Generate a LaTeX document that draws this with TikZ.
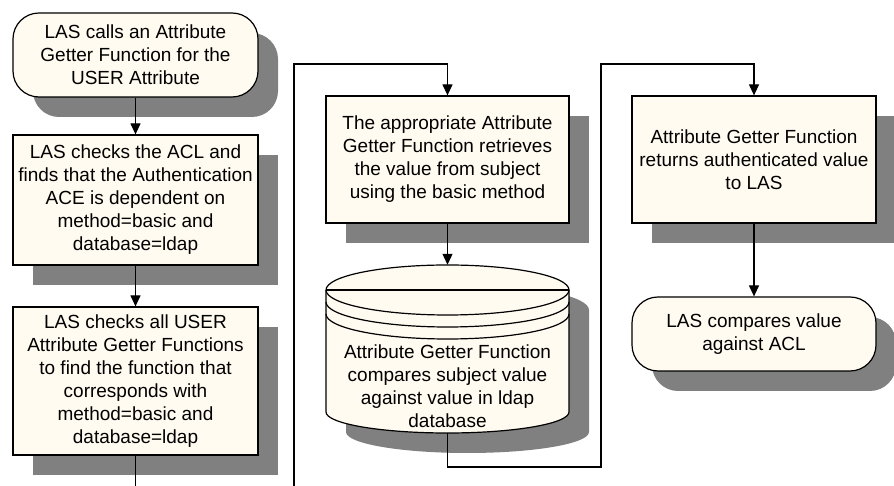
\documentclass[tikz,border=0pt]{standalone}
\usepackage{fontspec}
\setmainfont{Liberation Sans}
\usetikzlibrary{arrows.meta,shadows}
\definecolor{paper}{RGB}{255,251,240}
\definecolor{shadowgray}{RGB}{128,128,128}
\tikzset{
  box/.style={draw, line width=1.2pt, fill=paper, align=center, inner sep=0pt,
    font=\fontsize{19}{23}\selectfont,
    drop shadow={shadow xshift=20pt, shadow yshift=-20pt, fill=shadowgray, opacity=1}},
  term/.style={box, rounded corners=26pt},
  link/.style={line width=1.2pt},
  flow/.style={link, -{Triangle[length=11pt,width=10pt]}}
}
\begin{document}
\begin{tikzpicture}[x=1pt,y=1pt]
	\useasboundingbox (0,0) rectangle (894,486);
	% first column
	\node[term, minimum width=245pt, minimum height=84pt] (start) at (135.5,431)
		{LAS calls an Attribute\\Getter Function for the\\USER Attribute};
	\node[box, minimum width=245pt, minimum height=130pt] (acl) at (135.5,286)
		{LAS checks the ACL and\\finds that the Authentication\\ACE is dependent on\\method=basic and\\database=ldap};
	\node[box, minimum width=245pt, minimum height=148pt] (funcs) at (135.5,105)
		{LAS checks all USER\\Attribute Getter Functions\\to find the function that\\corresponds with\\method=basic and\\database=ldap};
	% second column
	\node[box, minimum width=243pt, minimum height=127pt] (fetch) at (447.5,326.5)
		{The appropriate Attribute\\Getter Function retrieves\\the value from subject\\using the basic method};
	\node[minimum width=243pt, minimum height=168pt, inner sep=0pt] (cmp) at (447.5,137) {};
	\fill[shadowgray, shift={(20,-20)}] (326,196) arc[start angle=180, end angle=0, x radius=121.5, y radius=25]
		-- (569,74) arc[start angle=0, end angle=-180, x radius=121.5, y radius=21] -- cycle;
	\filldraw[link, fill=paper] (326,196) arc[start angle=180, end angle=0, x radius=121.5, y radius=25]
		-- (569,74) arc[start angle=0, end angle=-180, x radius=121.5, y radius=21] -- cycle;
	\draw[link] (326,196) -- (569,196);
	\foreach \dy in {0,12,24}
		\draw[link] (326,196-\dy) arc[start angle=180, end angle=360, x radius=121.5, y radius=25];
	\node[align=center, font=\fontsize{19}{23}\selectfont] (cmptext) at (447.5,100)
		{Attribute Getter Function\\compares subject value\\against value in ldap\\database};
	% third column
	\node[box, minimum width=244pt, minimum height=127pt] (ret) at (754,326.5)
		{Attribute Getter Function\\returns authenticated value\\to LAS};
	\node[term, minimum width=244pt, minimum height=74pt] (done) at (754,152)
		{LAS compares value\\against ACL};
	% connectors
	\coordinate (cut1) at (135.5,0);
	\coordinate (in1) at (294,0);
	\coordinate (top1) at (294,422);
	\coordinate (loopbot) at (601,19);
	\coordinate (looptop) at (601,422);
	\draw[flow] (start.south) -- (acl.north);
	\draw[flow] (acl.south) -- (funcs.north);
	\draw[link] (funcs.south) -- (cut1);
	\draw[flow] (in1) -- (top1) -| (fetch.north);
	\draw[flow] (fetch.south) -- (cmp.north);
	\draw[flow] (cmp.south) |- (loopbot) -- (looptop) -| (ret.north);
	\draw[flow] (ret.south) -- (done.north);
\end{tikzpicture}
\end{document}
